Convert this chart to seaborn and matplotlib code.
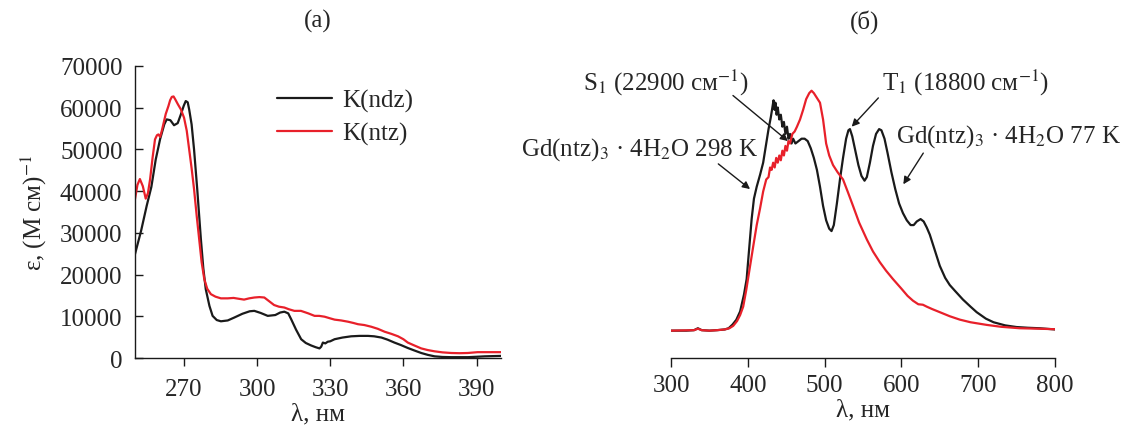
import matplotlib
matplotlib.use("Agg")
import matplotlib.pyplot as plt
import seaborn as sns
import numpy as np

# ---------------- data: panel (а) absorption ----------------
ndz_wl = [250, 252.5, 254.8, 256.7, 258.5, 260.3, 262, 263, 264.5, 266, 267.5, 268.8, 270, 270.8,
          271.6, 272.2, 273.2, 274.2, 275.5, 277, 278, 279, 280.5, 281.8, 283.5, 285.2, 288, 290.7,
          294, 297, 298.9, 301.5, 304.4, 307.5, 309.5, 311.2, 312.8, 314, 316, 318.1, 320, 322.2,
          324, 325.6, 326.3, 327, 328, 329, 330, 331.8, 335, 338.6, 342, 345.5, 348, 351, 353.5,
          356.3, 359, 361.8, 364.5, 367.3, 370, 372.8, 376, 379.6, 383, 386.4, 390, 393.3, 396.5, 400]
ndz_eps = [24900, 30500, 36500, 41000, 47600, 52500, 56000, 57200, 57000, 55800, 56300, 58400, 60500,
           61600, 61300, 59600, 56000, 50000, 40500, 28500, 21500, 16500, 12500, 10100, 9100, 8800,
           9000, 9700, 10600, 11200, 11300, 10800, 10100, 10300, 10900, 11100, 10700, 9300, 6800,
           4500, 3600, 3000, 2600, 2300, 2700, 3700, 3500, 3900, 4000, 4500, 4900, 5200, 5300, 5300,
           5200, 4900, 4400, 3700, 3100, 2400, 1800, 1200, 750, 400, 250, 200, 200, 200, 300, 400,
           450, 500]

ntz_wl = [250, 251, 252, 253.2, 254.4, 255.3, 256.2, 257.2, 258.2, 259, 259.6, 260.3, 261, 261.6,
          262.6, 263.7, 264.4, 265.1, 265.8, 266.5, 267.6, 268.8, 270.1, 271.2, 272.2, 273.2, 274.2,
          275.3, 276.3, 277.3, 278.4, 279.6, 281.1, 283, 285.2, 288, 290.4, 292.5, 294.7, 296.8,
          298.9, 301, 303, 305, 307, 309, 311.2, 313, 315.3, 318, 321, 323.6, 325.5, 327.7, 330,
          331.8, 334.5, 337.3, 339.5, 341.4, 344, 346.8, 349.5, 352.3, 355, 357.8, 360, 361.8, 364.5,
          367.3, 370, 372.8, 376, 379.6, 383, 386.4, 390.4, 395, 400]
ntz_eps = [38100, 41500, 42900, 41200, 38200, 39500, 42900, 48000, 52400, 53400, 53600, 53000,
           54500, 56000, 58500, 60400, 61800, 62600, 62700, 62000, 60800, 59600, 57600, 54500,
           50000, 45500, 40500, 34000, 28500, 23000, 18900, 16600, 15300, 14700, 14300, 14300,
           14400, 14200, 14000, 14300, 14500, 14600, 14500, 13600, 12700, 12300, 12100, 11700,
           11300, 11300, 10700, 10100, 10100, 9900, 9500, 9200, 9000, 8700, 8400, 8100, 7900, 7500,
           7000, 6300, 5800, 5200, 4500, 3700, 3000, 2300, 1900, 1600, 1350, 1200, 1150, 1200, 1400,
           1400, 1400]

# ---------------- data: panel (б) emission (norm.) ----------------
k77_wl = [300, 320, 330, 335, 340, 350, 360, 370, 375, 380, 385, 390, 395, 398.5, 402, 405, 408,
          411.6, 416, 420, 424, 427, 430, 432, 433.5, 435, 436, 437.5, 439, 441, 443, 445, 447, 449,
          451, 453, 455, 457, 459, 462, 466, 470, 474, 478, 482, 486, 490, 494, 498, 502, 506, 509,
          512, 516, 520, 524, 528, 531, 533, 536, 540, 544, 548, 552, 555, 559, 563, 567, 571, 574,
          578, 582, 587, 592, 597, 602, 607, 612, 616, 620, 625, 629, 633, 637, 643, 650, 657, 663,
          670, 680, 690, 698, 710, 720, 735, 750, 765, 780, 800]
k77_int = [0.0, 0.0, 0.002, 0.01, 0.002, 0.0, 0.002, 0.005, 0.01, 0.025, 0.045, 0.08, 0.15, 0.215,
           0.35, 0.465, 0.55, 0.60, 0.65, 0.70, 0.78, 0.84, 0.89, 0.93, 0.96, 0.92, 0.95, 0.90, 0.93,
           0.88, 0.90, 0.85, 0.87, 0.82, 0.85, 0.80, 0.82, 0.78, 0.80, 0.78, 0.79, 0.80, 0.80, 0.79,
           0.76, 0.72, 0.67, 0.60, 0.52, 0.46, 0.425, 0.415, 0.44, 0.53, 0.63, 0.72, 0.80, 0.835,
           0.84, 0.81, 0.75, 0.69, 0.645, 0.625, 0.64, 0.70, 0.77, 0.82, 0.84, 0.835, 0.80, 0.74,
           0.66, 0.59, 0.53, 0.49, 0.46, 0.44, 0.44, 0.455, 0.465, 0.455, 0.43, 0.40, 0.34, 0.27,
           0.22, 0.19, 0.165, 0.13, 0.10, 0.077, 0.05, 0.035, 0.022, 0.015, 0.012, 0.01, 0.005]

k298_wl = [300, 330, 335, 340, 350, 360, 370, 376, 381, 386, 390, 394, 398, 403, 407, 411.6, 416,
           420, 424, 427, 429, 431, 433, 435, 437, 439, 441, 443, 445, 447, 449, 451, 453, 455, 458,
           461, 464, 468, 472, 476, 480, 483, 486, 490, 494, 498, 502, 506, 511, 517, 524, 530, 537,
           545, 555, 563, 572, 580, 589, 600, 608, 615, 622, 628, 633, 640, 650, 663, 676, 690, 711,
           730, 754, 780, 800]
k298_int = [0.0, 0.002, 0.008, 0.002, 0.0, 0.002, 0.005, 0.01, 0.02, 0.04, 0.065, 0.10, 0.17, 0.27,
            0.35, 0.44, 0.51, 0.58, 0.63, 0.64, 0.68, 0.67, 0.70, 0.68, 0.72, 0.70, 0.73, 0.71, 0.75,
            0.73, 0.77, 0.75, 0.79, 0.78, 0.82, 0.83, 0.85, 0.88, 0.92, 0.965, 0.99, 1.0, 0.99, 0.97,
            0.95, 0.88, 0.78, 0.73, 0.69, 0.66, 0.63, 0.58, 0.52, 0.45, 0.38, 0.33, 0.285, 0.25,
            0.215, 0.175, 0.145, 0.125, 0.11, 0.108, 0.10, 0.09, 0.077, 0.06, 0.046, 0.035, 0.024,
            0.016, 0.01, 0.008, 0.006]

left_xticks = [270, 300, 330, 360, 390]
left_yticks = [0, 10000, 20000, 30000, 40000, 50000, 60000, 70000]
right_xticks = [300, 400, 500, 600, 700, 800]

BLACK = "#1a1a1a"
RED = "#e8202a"

sns.set_style("ticks")
plt.rcParams["font.family"] = ["Liberation Serif", "DejaVu Serif"]
plt.rcParams["mathtext.fontset"] = "stix"
FS = 18

fig = plt.figure(figsize=(11.38, 4.27), dpi=100)
W, H = 1138, 427
axL = fig.add_axes([135 / W, 1 - 359 / H, 366 / W, 292 / H])
axR = fig.add_axes([671 / W, 1 - 359 / H, 384 / W, 292 / H])

# ---------- panel (а) ----------
sns.lineplot(x=ndz_wl, y=ndz_eps, ax=axL, color=BLACK, lw=1.6, label="K(ndz)")
sns.lineplot(x=ntz_wl, y=ntz_eps, ax=axL, color=RED, lw=1.6, label="K(ntz)")
axL.set_xlim(250, 400)
axL.set_ylim(0, 70000)
axL.set_xticks(left_xticks)
axL.set_xticklabels([str(v) for v in left_xticks], fontsize=FS)
axL.set_yticks(left_yticks)
axL.set_yticklabels([str(v) for v in left_yticks], fontsize=FS)
axL.tick_params(axis="y", direction="in", length=6, width=1, pad=9, color=BLACK)
axL.tick_params(axis="x", direction="out", length=5.5, width=1, pad=9, color=BLACK)
sns.despine(ax=axL)
for s in ("left", "bottom"):
    axL.spines[s].set_linewidth(1.0)
    axL.spines[s].set_color(BLACK)
axL.set_xlabel("λ, нм", fontsize=FS, labelpad=2)
axL.set_ylabel("ε, (М см)$^{-1}$", fontsize=FS, labelpad=8)
leg = axL.legend(loc="upper left", bbox_to_anchor=(277 / W, 1 - 90 / H),
                 bbox_transform=fig.transFigure, frameon=False, fontsize=FS,
                 handlelength=2.2, handletextpad=0.4, labelspacing=0.38,
                 borderpad=0, borderaxespad=0)
for lh in leg.get_lines():
    lh.set_linewidth(1.6)

# ---------- panel (б) ----------
sns.lineplot(x=k77_wl, y=k77_int, ax=axR, color=BLACK, lw=1.6)
sns.lineplot(x=k298_wl, y=k298_int, ax=axR, color=RED, lw=1.6)
axR.set_xlim(300, 800)
axR.set_ylim(-0.114, 1.103)
axR.set_xticks(right_xticks)
axR.set_xticklabels([str(v) for v in right_xticks], fontsize=FS)
axR.set_yticks([])
axR.tick_params(axis="x", direction="out", length=6.5, width=1, pad=5, color=BLACK)
sns.despine(ax=axR, left=True)
axR.spines["bottom"].set_linewidth(1.0)
axR.spines["bottom"].set_color(BLACK)
axR.set_xlabel("λ, нм", fontsize=FS, labelpad=2)
axR.set_ylabel("")

arrow = dict(arrowstyle="-|>", color=BLACK, lw=1.0, mutation_scale=11, shrinkA=0, shrinkB=0)
axR.annotate("", xy=(452.3, 0.79), xytext=(380.7, 0.98), arrowprops=arrow, annotation_clip=False)
axR.annotate("", xy=(402.9, 0.59), xytext=(361.6, 0.695), arrowprops=arrow, annotation_clip=False)
axR.annotate("", xy=(535.3, 0.85), xytext=(570, 0.97), arrowprops=arrow, annotation_clip=False)
axR.annotate("", xy=(602.5, 0.61), xytext=(628.5, 0.74), arrowprops=arrow, annotation_clip=False)

axR.text(185.4, 1.036, "S$_1$ (22900 см$^{-1}$)", fontsize=FS, ha="left", va="center", clip_on=False)
axR.text(413.7, 0.757, "Gd(ntz)$_3$ · 4H$_2$O 298 K", fontsize=FS, ha="right", va="center", clip_on=False)
axR.text(574.7, 1.036, "T$_1$ (18800 см$^{-1}$)", fontsize=FS, ha="left", va="center", clip_on=False)
axR.text(593, 0.8125, "Gd(ntz)$_3$ · 4H$_2$O 77 K", fontsize=FS, ha="left", va="center", clip_on=False)

fig.text(318 / W, 1 - 21 / H, "(а)", fontsize=FS, ha="center", va="center")
fig.text(865 / W, 1 - 22 / H, "(б)", fontsize=FS, ha="center", va="center")

fig.savefig("out.png", dpi=100)
